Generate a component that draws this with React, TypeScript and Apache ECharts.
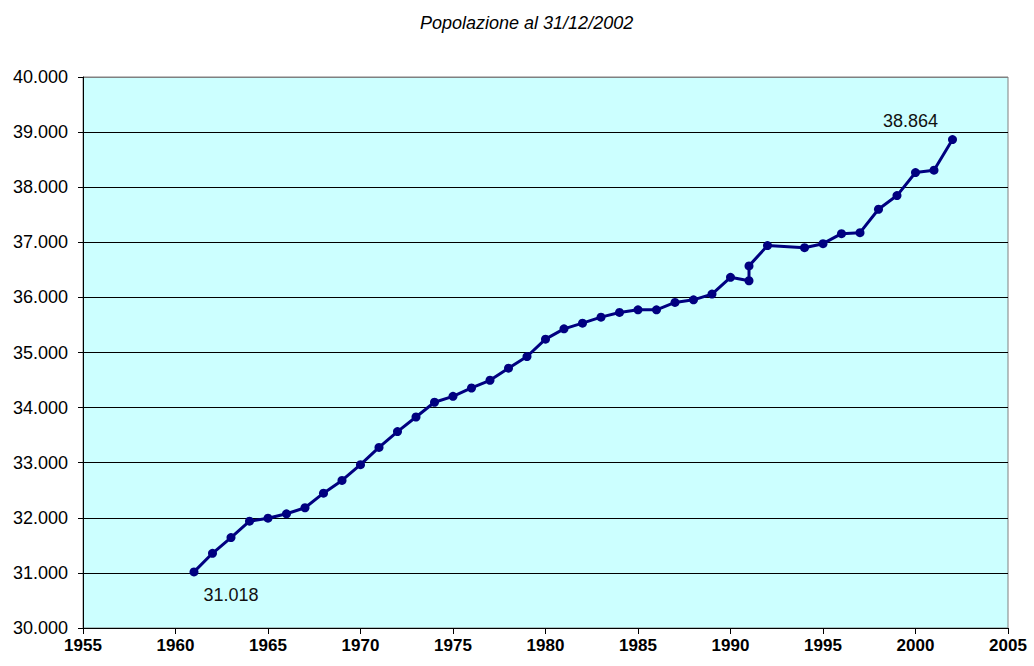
import React, { useEffect, useRef } from "react";
import * as echarts from "echarts";

const years = [
  1961, 1962, 1963, 1964, 1965, 1966, 1967, 1968, 1969, 1970,
  1971, 1972, 1973, 1974, 1975, 1976, 1977, 1978, 1979, 1980,
  1981, 1982, 1983, 1984, 1985, 1986, 1987, 1988, 1989, 1990,
  1991, 1991, 1992, 1994, 1995, 1996, 1997, 1998, 1999, 2000,
  2001, 2002,
];
const population = [
  31018, 31356, 31642, 31938, 31993, 32073, 32182, 32447, 32678, 32964,
  33278, 33564, 33829, 34097, 34205, 34356, 34496, 34715, 34927, 35242,
  35429, 35533, 35642, 35727, 35775, 35775, 35909, 35956, 36060, 36364,
  36302, 36572, 36940, 36902, 36975, 37157, 37175, 37600, 37848, 38266,
  38309, 38864,
];
const labelledIndices = [0, population.length - 1];
const titleText = "Popolazione al 31/12/2002";

const fmt = (v: number) => String(v).replace(/\B(?=(\d{3})+(?!\d))/g, ".");

const FONT = "'Liberation Sans', Arial, sans-serif";

export default function App() {
  const ref = useRef<HTMLDivElement>(null);
  useEffect(() => {
    if (!ref.current) return;
    const chart = echarts.init(ref.current, undefined, { renderer: "svg" });
    const data = years.map((y, i) => {
      const item: any = { value: [y, population[i]] };
      if (i === labelledIndices[0]) {
        item.label = { show: true, position: "bottom", offset: [37, 5] };
      } else if (i === labelledIndices[1]) {
        item.label = { show: true, position: "top", offset: [-42, 0] };
      }
      return item;
    });
    const splitColors = Array.from({ length: 11 }, (_, i) => (i === 10 ? "#808080" : "#000000"));
    chart.setOption({
      animation: false,
      backgroundColor: "#ffffff",
      title: {
        text: titleText,
        left: 415,
        top: 9,
        textStyle: {
          fontFamily: FONT,
          fontStyle: "italic",
          fontWeight: "normal",
          fontSize: 18,
          color: "#000",
        },
      },
      grid: {
        left: 83,
        right: 26,
        top: 77,
        bottom: 38,
        show: true,
        backgroundColor: "#CCFFFF",
        borderColor: "#808080",
        borderWidth: 1,
      },
      xAxis: {
        type: "value",
        min: 1955,
        max: 2005,
        interval: 5,
        axisLine: { show: true, onZero: false, lineStyle: { color: "#000", width: 1 } },
        axisTick: { show: true, length: 6, lineStyle: { color: "#000" } },
        splitLine: { show: false },
        axisLabel: {
          margin: 9,
          fontFamily: FONT,
          fontWeight: "bold",
          fontSize: 17,
          color: "#000",
          showMinLabel: true,
          showMaxLabel: true,
          formatter: (v: number) => String(v),
        },
      },
      yAxis: {
        type: "value",
        min: 30000,
        max: 40000,
        interval: 1000,
        axisLine: { show: true, lineStyle: { color: "#000", width: 1 } },
        axisTick: { show: true, length: 5, lineStyle: { color: "#000" } },
        splitLine: { show: true, lineStyle: { color: splitColors, width: 1 } },
        axisLabel: {
          margin: 15,
          fontFamily: FONT,
          fontSize: 18,
          color: "#000",
          formatter: (v: number) => fmt(v),
        },
      },
      series: [
        {
          type: "line",
          data,
          symbol: "circle",
          symbolSize: 9,
          lineStyle: { color: "#000080", width: 3 },
          itemStyle: { color: "#000080" },
          label: {
            show: false,
            fontFamily: FONT,
            fontSize: 18,
            color: "#111",
            formatter: (p: any) => fmt(p.value[1]),
          },
          z: 5,
        },
      ],
    });
    return () => chart.dispose();
  }, []);
  return (
    <div
      ref={ref}
      style={{ position: "absolute", left: 0, top: 0, width: 1034, height: 666 }}
    />
  );
}
